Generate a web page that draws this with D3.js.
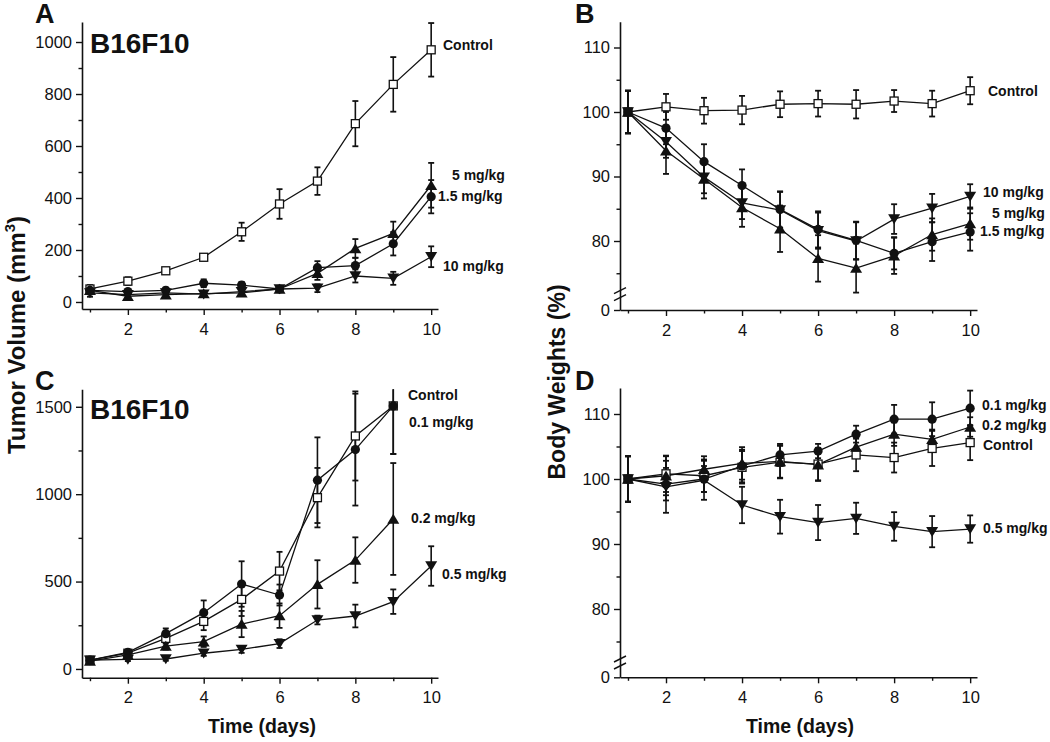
<!DOCTYPE html>
<html><head><meta charset="utf-8">
<script src="https://cdn.jsdelivr.net/npm/d3@7"></script>
<style>
body{margin:0;background:#fff}
svg{display:block}
text{font-family:"Liberation Sans",Arial,Helvetica,sans-serif;fill:#111}
</style>
</head><body>
<svg id="chart" width="1050" height="742"></svg>
<script>
// ---------------- DATA ----------------
const days = [1,2,3,4,5,6,7,8,9,10];
const xMajorTicks = [2,4,6,8,10];
const xMinorTicks = [1,3,5,7,9];

// Panel A : tumor volume (mm3), B16F10
const aControl    = [50, 80, 120, 172, 270, 377, 465, 686, 837, 970];
const aControlErr = [15, 15, 10, 12, 35, 57, 53, 87, 105, 103];
const a15         = [45, 40, 45, 72, 65, 50, 132, 140, 224, 405];
const a15Err      = [15, 10, 10, 15, 12, 10, 25, 30, 45, 64];
const a5          = [45, 22, 28, 32, 35, 50, 110, 206, 264, 449];
const a5Err       = [15, 10, 10, 10, 10, 10, 25, 36, 45, 86];
const a10         = [35, 28, 35, 30, 40, 50, 53, 100, 91, 174];
const a10Err      = [15, 10, 10, 10, 10, 10, 15, 25, 25, 40];
const aYMajor = [0,200,400,600,800,1000];
const aYMinor = [100,300,500,700,900];

// Panel B : body weights (%)
const bControl    = [100, 100.8, 100.2, 100.3, 101.2, 101.3, 101.2, 101.7, 101.3, 103.3];
const bControlErr = [3.3, 2.0, 2.0, 2.2, 2.0, 2.0, 2.2, 1.7, 2.0, 2.1];
const b15         = [100, 97.5, 92.3, 88.6, 84.9, 81.8, 80.1, 78.1, 79.9, 81.4];
const b15Err      = [3.3, 2.5, 2.7, 2.5, 2.8, 2.8, 2.9, 2.5, 3.0, 2.9];
const b5          = [100, 94.0, 89.6, 85.2, 81.9, 77.3, 75.8, 77.7, 81.0, 82.7];
const b5Err       = [3.3, 3.6, 3.0, 3.0, 3.6, 3.6, 3.8, 2.8, 2.5, 2.5];
const b10         = [100, 95.4, 89.9, 85.9, 84.8, 81.6, 80.0, 83.4, 85.1, 86.9];
const b10Err      = [3.3, 2.5, 2.5, 2.5, 2.8, 2.8, 2.9, 2.3, 2.2, 1.9];
const bwYMajor = [0,80,90,100,110];
const bwYMinor = [75,85,95,105];

// Panel C : tumor volume (mm3), B16F10
const cControl    = [50, 90, 175, 272, 398, 560, 980, 1333, 1505, null];
const cControlErr = [10, 15, 30, 50, 95, 110, 170, 255, 275, null];
const c01         = [50, 95, 202, 322, 486, 423, 1080, 1255, 1505, null];
const c01Err      = [10, 15, 30, 70, 130, 60, 245, 320, 275, null];
const c02         = [45, 80, 131, 156, 257, 305, 484, 623, 858, null];
const c02Err      = [10, 10, 20, 30, 75, 70, 138, 130, 320, null];
const c05         = [50, 55, 57, 90, 112, 145, 280, 303, 385, 589];
const c05Err      = [10, 10, 10, 15, 20, 25, 25, 65, 70, 113];
const cYMajor = [0,500,1000,1500];
const cYMinor = [250,750,1250];

// Panel D : body weights (%)
const dControl    = [100, 100.8, 100.5, 101.8, 102.6, 102.3, 103.7, 103.3, 104.7, 105.6];
const dControlErr = [3.5, 2.8, 2.5, 2.5, 2.5, 2.5, 2.5, 2.3, 2.7, 2.7];
const d01         = [100, 99.2, 100.0, 102.0, 103.7, 104.3, 106.9, 109.2, 109.2, 110.9];
const d01Err      = [3.5, 2.5, 2.0, 2.5, 1.7, 1.1, 1.3, 2.2, 2.6, 2.7];
const d02         = [100, 100.5, 101.5, 102.4, 102.7, 102.2, 104.9, 106.9, 106.1, 108.0];
const d02Err      = [3.5, 3.0, 2.0, 2.5, 2.5, 2.5, 1.5, 1.8, 1.5, 1.5];
const d05         = [100, 98.8, 99.8, 96.0, 94.2, 93.3, 93.95, 92.7, 91.9, 92.3];
const d05Err      = [3.5, 4.0, 3.0, 2.8, 2.6, 2.7, 2.4, 2.2, 2.4, 2.1];

// ---------------- DRAWING ----------------
const svg = d3.select("#chart");

function markerPath(shape){
  if (shape === "up")   return "M0,-5.3L6,4.7L-6,4.7Z";
  if (shape === "down") return "M0,5.3L6,-4.7L-6,-4.7Z";
  return null;
}

function panel(cfg){
  const g = svg.append("g");
  const x = d3.scaleLinear().domain([0.79, 10.18]).range(cfg.xRange);
  const y = cfg.y;
  const yBot = y.range()[0];
  const yMin = y.domain()[0], yMax = y.domain()[y.domain().length-1];

  // axes
  const ya = g.append("g").attr("transform", `translate(${cfg.xRange[0]},0)`);
  ya.call(d3.axisLeft(y).tickValues(cfg.yMajor).tickSize(6).tickSizeOuter(0).tickPadding(4).tickFormat(d3.format("d")));
  const yb = g.append("g").attr("transform", `translate(${cfg.xRange[0]},0)`);
  yb.call(d3.axisLeft(y).tickValues(cfg.yMinor).tickSize(3.5).tickSizeOuter(0).tickFormat(""));
  yb.select(".domain").remove();

  const xa = g.append("g").attr("transform", `translate(0,${yBot})`);
  xa.call(d3.axisBottom(x).tickValues(xMajorTicks).tickSize(6).tickSizeOuter(0).tickPadding(8).tickFormat(d3.format("d")));
  const xb = g.append("g").attr("transform", `translate(0,${yBot})`);
  xb.call(d3.axisBottom(x).tickValues(xMinorTicks).tickSize(3.5).tickSizeOuter(0).tickFormat(""));
  xb.select(".domain").remove();

  g.selectAll(".domain").attr("stroke","#111").attr("stroke-width",1.6);
  g.selectAll(".tick line").attr("stroke","#111").attr("stroke-width",1.4);
  g.selectAll(".tick text").attr("font-size",16.5).attr("fill","#111")
    .style("font-family",'"Liberation Sans",Arial,sans-serif');

  if (cfg.brk){
    const yb0 = y(72);
    [yb0-2, yb0+5].forEach(v=>{
      g.append("line").attr("x1",cfg.xRange[0]-6).attr("x2",cfg.xRange[0]+6)
        .attr("y1",v+3).attr("y2",v-3).attr("stroke","#111").attr("stroke-width",1.4);
    });
  }

  const clampY = v => Math.max(yMin, Math.min(yMax, v));

  // connecting lines
  cfg.series.forEach(s=>{
    const pts = days.map((d,i)=>({d, v:s.values[i]}));
    const line = d3.line().defined(p=>p.v!=null).x(p=>x(p.d)).y(p=>y(p.v));
    g.append("path").attr("d", line(pts)).attr("fill","none")
      .attr("stroke","#111").attr("stroke-width",1.3);
  });
  // error bars
  cfg.series.forEach(s=>{
    days.forEach((d,i)=>{
      const v = s.values[i], e = s.err[i];
      if (v==null || e==null) return;
      const lo = v-e, hi = v+e;
      const loC = clampY(lo), hiC = clampY(hi);
      const cx = x(d);
      g.append("line").attr("x1",cx).attr("x2",cx).attr("y1",y(loC)).attr("y2",y(hiC))
        .attr("stroke","#111").attr("stroke-width",1.6);
      if (lo===loC) g.append("line").attr("x1",cx-3).attr("x2",cx+3).attr("y1",y(lo)).attr("y2",y(lo)).attr("stroke","#111").attr("stroke-width",1.8);
      if (hi===hiC) g.append("line").attr("x1",cx-3).attr("x2",cx+3).attr("y1",y(hi)).attr("y2",y(hi)).attr("stroke","#111").attr("stroke-width",1.8);
    });
  });
  // markers
  cfg.series.forEach(s=>{
    days.forEach((d,i)=>{
      const v = s.values[i];
      if (v==null) return;
      const cx = x(d), cy = y(v);
      if (s.shape==="square"){
        g.append("rect").attr("x",cx-4).attr("y",cy-4).attr("width",8).attr("height",8)
          .attr("fill","#fff").attr("stroke","#111").attr("stroke-width",1.3);
      } else if (s.shape==="circle"){
        g.append("circle").attr("cx",cx).attr("cy",cy).attr("r",4.6).attr("fill","#111");
      } else {
        g.append("path").attr("d",markerPath(s.shape)).attr("transform",`translate(${cx},${cy})`).attr("fill","#111");
      }
    });
  });
  // series labels
  cfg.labels.forEach(l=>{
    g.append("text").attr("x",l[1]).attr("y",l[2]).attr("font-size",14).attr("font-weight","bold").text(l[0]);
  });
  // panel letter and title
  g.append("text").attr("x",cfg.letter[1]).attr("y",cfg.letter[2]).attr("font-size",27).attr("font-weight","bold").text(cfg.letter[0]);
  if (cfg.title) g.append("text").attr("x",cfg.title[1]).attr("y",cfg.title[2]).attr("font-size",28).attr("font-weight","bold").text(cfg.title[0]);
}

const bwScaleB = d3.scaleLinear().domain([0,72,114]).range([310, 292.6, 21.7]);
const bwScaleD = d3.scaleLinear().domain([0,72,114]).range([677.3, 661, 388]);

panel({
  xRange:[82,438],
  y: d3.scaleLinear().domain([-27,1077]).range([309,22]),
  yMajor:aYMajor, yMinor:aYMinor,
  series:[
    {shape:"square", values:aControl, err:aControlErr},
    {shape:"circle", values:a15, err:a15Err},
    {shape:"up", values:a5, err:a5Err},
    {shape:"down", values:a10, err:a10Err}
  ],
  labels:[["Control",443,50],["5 mg/kg",452,180],["1.5 mg/kg",438,201],["10 mg/kg",443,271]],
  letter:["A",35,23], title:["B16F10",90,53]
});

panel({
  xRange:[620,977],
  y: bwScaleB, brk:true,
  yMajor:bwYMajor, yMinor:bwYMinor,
  series:[
    {shape:"square", values:bControl, err:bControlErr},
    {shape:"circle", values:b15, err:b15Err},
    {shape:"up", values:b5, err:b5Err},
    {shape:"down", values:b10, err:b10Err}
  ],
  labels:[["Control",988,96],["10 mg/kg",983,197],["5 mg/kg",992,218],["1.5 mg/kg",980,236]],
  letter:["B",575,23]
});

panel({
  xRange:[82,438],
  y: d3.scaleLinear().domain([-50,1600]).range([677.7,389.3]),
  yMajor:cYMajor, yMinor:cYMinor,
  series:[
    {shape:"square", values:cControl, err:cControlErr},
    {shape:"circle", values:c01, err:c01Err},
    {shape:"up", values:c02, err:c02Err},
    {shape:"down", values:c05, err:c05Err}
  ],
  labels:[["Control",408,400],["0.1 mg/kg",409,427],["0.2 mg/kg",411,523],["0.5 mg/kg",442,579]],
  letter:["C",35,390], title:["B16F10",90,419]
});

panel({
  xRange:[620,977],
  y: bwScaleD, brk:true,
  yMajor:bwYMajor, yMinor:bwYMinor,
  series:[
    {shape:"square", values:dControl, err:dControlErr},
    {shape:"circle", values:d01, err:d01Err},
    {shape:"up", values:d02, err:d02Err},
    {shape:"down", values:d05, err:d05Err}
  ],
  labels:[["0.1 mg/kg",982,410],["0.2 mg/kg",982,430],["Control",983,450],["0.5 mg/kg",983,533]],
  letter:["D",575,390]
});

// axis titles
const yt1 = svg.append("text").attr("transform","translate(25,335) rotate(-90)")
  .attr("text-anchor","middle").attr("font-size",24).attr("font-weight","bold");
yt1.append("tspan").text("Tumor Volume  (mm");
yt1.append("tspan").attr("font-size",15).attr("dy",-10).text("3");
yt1.append("tspan").attr("dy",10).text(")");

svg.append("text").attr("transform","translate(565,382) rotate(-90)")
  .attr("text-anchor","middle").attr("font-size",23).attr("font-weight","bold").text("Body Weights (%)");

svg.append("text").attr("x",262).attr("y",733).attr("text-anchor","middle")
  .attr("font-size",19.5).attr("font-weight","bold").text("Time (days)");
svg.append("text").attr("x",800).attr("y",733).attr("text-anchor","middle")
  .attr("font-size",19.5).attr("font-weight","bold").text("Time (days)");
</script>
</body></html>
